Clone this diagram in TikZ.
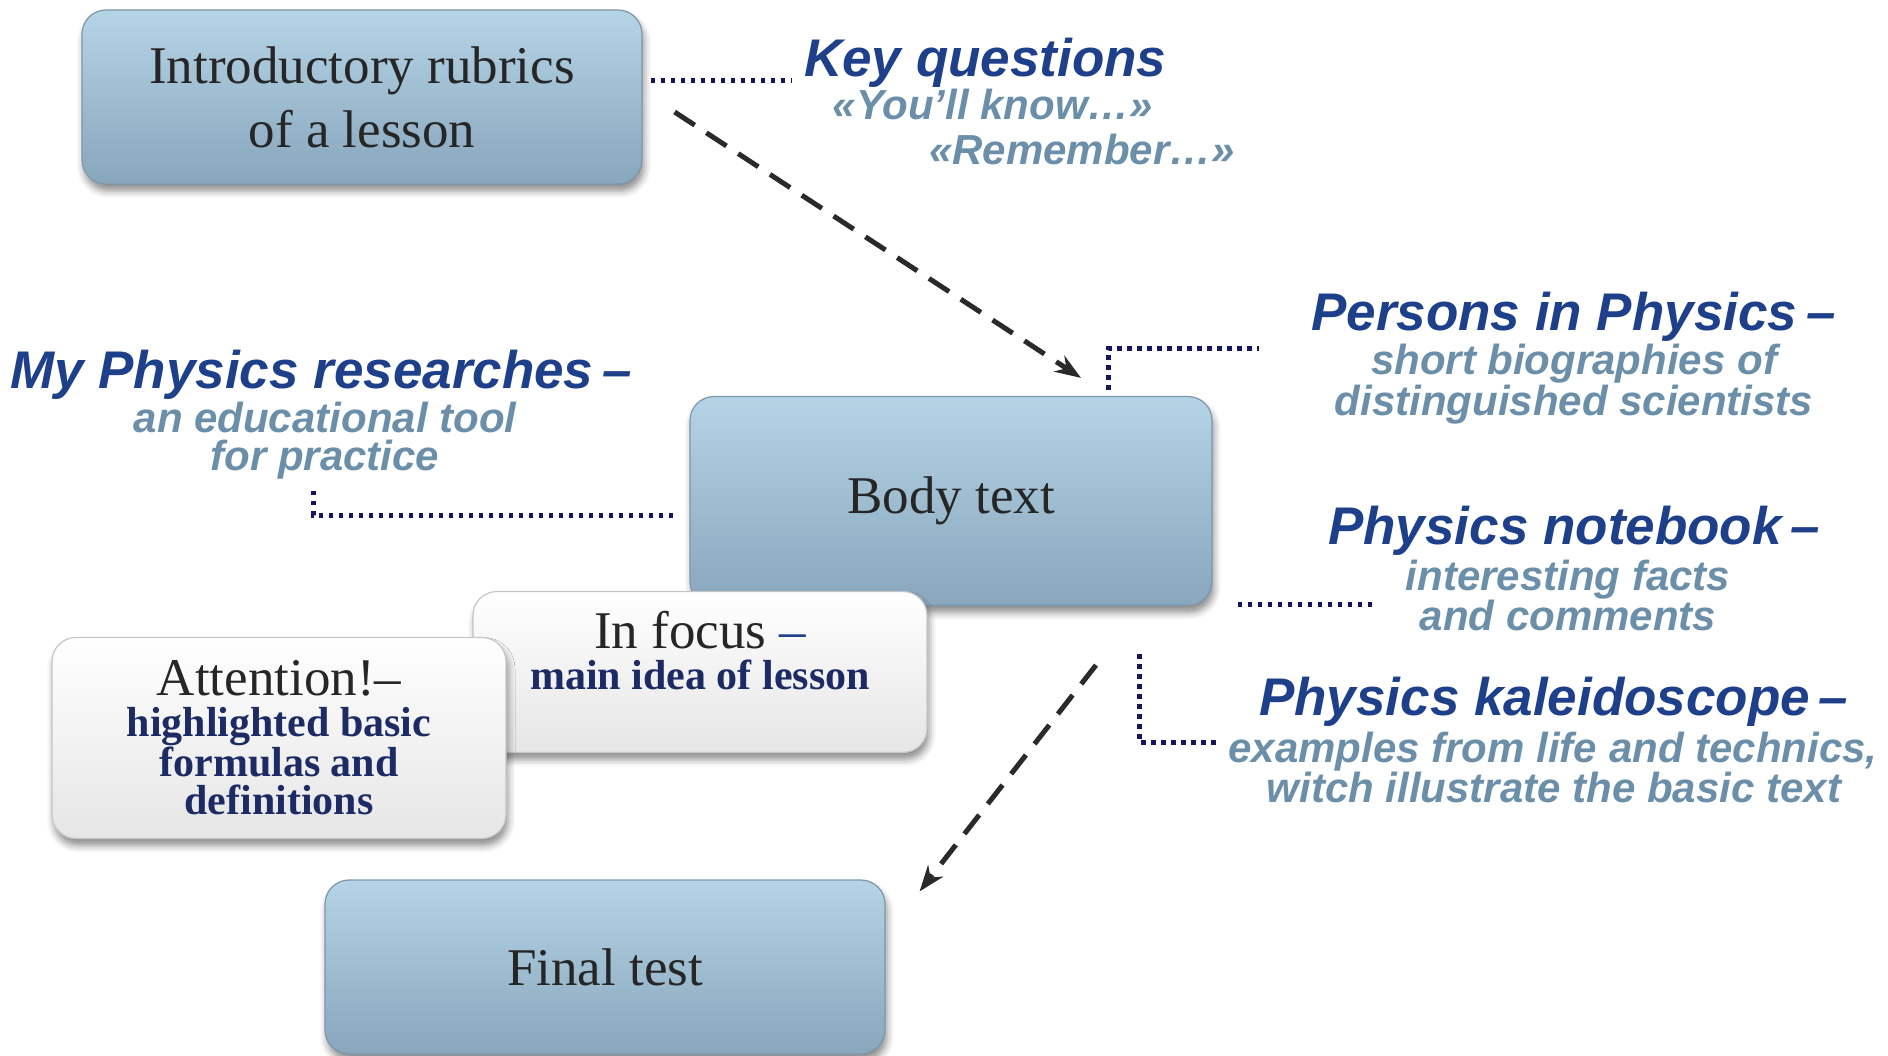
\documentclass[tikz,border=0pt]{standalone}
\usepackage{fontspec}
\setmainfont{Liberation Serif}
\newfontfamily\labfont{Liberation Sans}
\usetikzlibrary{shadows.blur,calc,arrows.meta}

\definecolor{boxtop}{HTML}{B5D4E6}
\definecolor{boxbot}{HTML}{88A6BC}
\definecolor{boxedge}{HTML}{7D97AA}
\definecolor{titleblue}{HTML}{1E3F8A}
\definecolor{subblue}{HTML}{6C8FA9}
\definecolor{navy}{HTML}{1C2B63}
\definecolor{dotnavy}{HTML}{15155E}
\definecolor{arrowgrey}{HTML}{2A2A2A}

% bold navy captions inside the white boxes, with a large plain heading line
\newcommand\boldnavy{\bfseries\color{navy}\fontsize{42}{38}\selectfont}
\newcommand\plainhead{\mdseries\color{black!85}\fontsize{53}{38}\selectfont}

\tikzset{
  boxshadow/.style={blur shadow={shadow xshift=2pt, shadow yshift=-7pt,
      shadow blur radius=7pt, shadow opacity=45}},
  bluebox/.style={rounded corners=24pt, top color=boxtop, bottom color=boxbot,
      draw=boxedge, line width=1.2pt, boxshadow, align=center, inner sep=0pt,
      font=\fontsize{53}{64}\selectfont, text=black!85},
  whitebox/.style={rounded corners=24pt, top color=white, bottom color=gray!20,
      draw=gray!45, line width=1.2pt, boxshadow, align=center, inner sep=0pt,
      font=\boldnavy, text=navy},
  titletext/.style={font=\labfont\bfseries\itshape\fontsize{53}{60}\selectfont,
      text=titleblue, inner sep=0pt},
  subtext/.style={font=\labfont\bfseries\itshape\fontsize{42}{41}\selectfont,
      text=subblue, inner sep=0pt},
  dotline/.style={dotnavy, line width=5pt, dash pattern=on 4.5pt off 5.5pt},
  dasharrow/.style={arrowgrey, line width=5pt, dash pattern=on 24pt off 14pt,
      -{Stealth[length=26pt,width=19pt]}},
}

\begin{document}
\begin{tikzpicture}[x=1pt,y=-1pt]
\useasboundingbox (0,0) rectangle (1888,1056);

% main boxes
\node[bluebox, minimum width=560pt, minimum height=174pt] (intro) at (362,97)
  {Introductory rubrics\\of a lesson};
\node[bluebox, minimum width=522pt, minimum height=209pt] (body) at (951,501)
  {Body text};
\node[whitebox, minimum width=454pt, minimum height=161pt] (infocus) at (700,672) {};
\node[anchor=north, align=center, inner sep=0pt, font=\boldnavy, text=navy]
  (infocustxt) at ($(infocus.north)+(0,20)$)
  {{\plainhead In focus \textcolor{titleblue}{–}}\\[3pt]
   main idea of lesson};
\node[whitebox, minimum width=454pt, minimum height=201pt] (attention) at (279,738)
  {{\plainhead Attention!–}\\[3pt]
   highlighted basic\\formulas and\\definitions};
\node[bluebox, minimum width=560pt, minimum height=174pt] (final) at (605,967)
  {Final test};

% rubric labels
\node[titletext, anchor=base west] (kq) at (804,77) {Key questions};
\node[subtext, anchor=base] (kq1) at (993,120) {«You’ll know…»};
\node[subtext, anchor=base] (kq2) at (1082,165) {«Remember…»};

\node[titletext, anchor=base west] (mpr) at (10,389) {My Physics researches\,–};
\node[subtext, anchor=base] (mpr1) at (325,432) {an educational tool};
\node[subtext, anchor=base] (mpr2) at (325,470) {for practice};

\node[titletext, anchor=base west] (pers) at (1311,331) {Persons in Physics\,–};
\node[subtext, anchor=base] (pers1) at (1574,375) {short biographies of};
\node[subtext, anchor=base] (pers2) at (1574,416) {distinguished scientists};

\node[titletext, anchor=base west] (nb) at (1328,544) {Physics notebook\,–};
\node[subtext, anchor=base] (nb1) at (1568,590) {interesting facts};
\node[subtext, anchor=base] (nb2) at (1568,630) {and comments};

\node[titletext, anchor=base west] (kal) at (1259,715) {Physics kaleidoscope\,–};
\node[subtext, anchor=base] (kal1) at (1553,762) {examples from life and technics,};
\node[subtext, anchor=base] (kal2) at (1554,802) {witch illustrate the basic text};

% dotted leaders
\draw[dotline] ($(intro.east)+(8,-16)$) -- ($(kq.base west)+(-13,4)$);
\draw[dotline] ($(body.north)+(157,-6)$) |- ($(pers.base west)+(-52,18)$);
\draw[dotline] ($(body.west)+(-16,14)$) -| ($(mpr2.base)+(-12,18)$);
\draw[dotline] ($(body.east)+(25,103)$) -- ($(nb2.base west)+(-45,-26)$);
\draw[dotline] ($(body.south)+(188,48)$) |- ($(kal1.base west)+(-10,-20)$);

% flow arrows
\draw[dasharrow] ($(intro.east)+(32,15)$) -- ($(body.north)+(130,-18)$);
\draw[dasharrow] ($(body.south)+(145,59)$) -- ($(final.north east)+(34,12)$);
\end{tikzpicture}
\end{document}
